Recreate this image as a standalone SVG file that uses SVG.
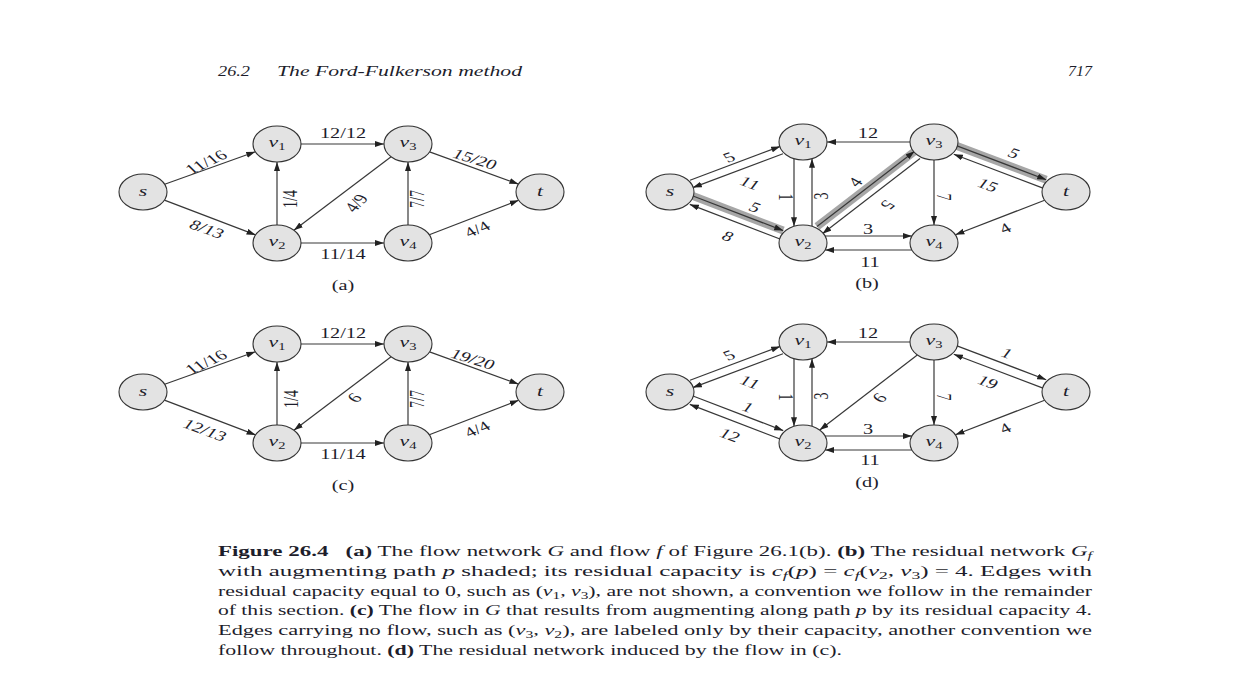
<svg xmlns="http://www.w3.org/2000/svg" width="1256" height="684" viewBox="0 0 1256 684">
<defs>
<marker id="ah" markerUnits="userSpaceOnUse" markerWidth="10" markerHeight="7" refX="9" refY="3.2" orient="auto">
<path d="M0,0.2 L9,3.2 L0,6.2 z" fill="#222"/>
</marker>
<style>
.n{fill:#e3e3e3;stroke:#333;stroke-width:1.1}
.e{stroke:#383838;stroke-width:1.2;fill:none;marker-end:url(#ah)}
.hl{stroke:#a6a6a6;stroke-width:8;fill:none}
.lb{font-family:"Liberation Serif","Times New Roman",serif;font-size:14px;fill:#1d1d2b;text-anchor:middle;dominant-baseline:central}
.nl{font-family:"Liberation Serif","Times New Roman",serif;font-style:italic;font-size:15px;fill:#1d1d2b;text-anchor:middle}
.sb{font-style:normal;font-size:10px}
.cap{font-family:"Liberation Serif","Times New Roman",serif;font-size:15px;fill:#1d1d2b}
.hd{font-family:"Liberation Serif","Times New Roman",serif;font-style:italic;font-size:15px;fill:#1d1d2b}
.b{font-weight:bold}
.i{font-style:italic}
.cs{font-size:10.5px}
</style>
</defs>
<rect width="1256" height="684" fill="#fff"/>

<g id="header">
<text class="hd" x="218" y="76" textLength="32" lengthAdjust="spacingAndGlyphs">26.2</text>
<text class="hd" x="277" y="76" textLength="245" lengthAdjust="spacingAndGlyphs">The Ford-Fulkerson method</text>
<text class="hd" x="1068" y="76" textLength="24" lengthAdjust="spacingAndGlyphs">717</text>
</g>

<g id="highlights">
<line class="hl" x1="693.0" y1="196.0" x2="783.2" y2="230.6"/>
<line class="hl" x1="817.0" y1="226.5" x2="914.6" y2="151.3"/>
<line class="hl" x1="957.0" y1="145.9" x2="1046.2" y2="179.7"/>
</g>

<g id="connectors">
<!-- (a) -->
<line class="e" x1="164.7" y1="184.2" x2="255.3" y2="151.8"/>
<line class="e" x1="164.4" y1="200.1" x2="255.6" y2="234.9"/>
<line class="e" x1="301" y1="144" x2="384" y2="144"/>
<line class="e" x1="301" y1="243" x2="384" y2="243"/>
<line class="e" x1="277" y1="225" x2="277" y2="162"/>
<line class="e" x1="408" y1="225" x2="408" y2="162"/>
<line class="e" x1="429.6" y1="151.9" x2="518.4" y2="184.1"/>
<line class="e" x1="429.3" y1="234.8" x2="518.7" y2="200.2"/>
<line class="e" x1="391.1" y1="156.8" x2="293.9" y2="230.2"/>
<!-- (c) -->
<line class="e" x1="164.7" y1="384.2" x2="255.3" y2="351.8"/>
<line class="e" x1="164.4" y1="400.1" x2="255.6" y2="434.9"/>
<line class="e" x1="301" y1="344" x2="384" y2="344"/>
<line class="e" x1="301" y1="443" x2="384" y2="443"/>
<line class="e" x1="277" y1="425" x2="277" y2="362"/>
<line class="e" x1="408" y1="425" x2="408" y2="362"/>
<line class="e" x1="429.6" y1="351.9" x2="518.4" y2="384.1"/>
<line class="e" x1="429.3" y1="434.8" x2="518.7" y2="400.2"/>
<line class="e" x1="391.1" y1="356.8" x2="293.9" y2="430.2"/>
<!-- (b) -->
<line class="e" x1="690.0" y1="180.2" x2="780.2" y2="146.4"/>
<line class="e" x1="783.0" y1="153.8" x2="692.8" y2="187.6"/>
<line class="e" x1="693.0" y1="196.0" x2="783.2" y2="230.6"/>
<line class="e" x1="780.0" y1="239.0" x2="689.8" y2="204.4"/>
<line class="e" x1="794" y1="158.7" x2="794" y2="226.3"/>
<line class="e" x1="812" y1="226.3" x2="812" y2="158.7"/>
<line class="e" x1="817.0" y1="226.5" x2="914.6" y2="151.3"/>
<line class="e" x1="920.0" y1="158.5" x2="822.4" y2="233.7"/>
<line class="e" x1="910" y1="142" x2="827" y2="142"/>
<line class="e" x1="934" y1="160" x2="934" y2="225"/>
<line class="e" x1="957.0" y1="145.9" x2="1046.2" y2="179.7"/>
<line class="e" x1="1043.0" y1="188.1" x2="953.8" y2="154.3"/>
<line class="e" x1="1044.6" y1="200.2" x2="955.4" y2="234.8"/>
<line class="e" x1="825.1" y1="236" x2="911.9" y2="236"/>
<line class="e" x1="911.9" y1="250" x2="825.1" y2="250"/>
<!-- (d) -->
<line class="e" x1="690.0" y1="380.2" x2="780.2" y2="346.4"/>
<line class="e" x1="783.0" y1="353.8" x2="692.8" y2="387.6"/>
<line class="e" x1="693.0" y1="396.0" x2="783.2" y2="430.6"/>
<line class="e" x1="780.0" y1="439.0" x2="689.8" y2="404.4"/>
<line class="e" x1="794" y1="358.7" x2="794" y2="426.3"/>
<line class="e" x1="812" y1="426.3" x2="812" y2="358.7"/>
<line class="e" x1="917.3" y1="354.9" x2="819.7" y2="430.1"/>
<line class="e" x1="910" y1="342" x2="827" y2="342"/>
<line class="e" x1="934" y1="360" x2="934" y2="425"/>
<line class="e" x1="957.0" y1="345.9" x2="1046.2" y2="379.7"/>
<line class="e" x1="1043.0" y1="388.1" x2="953.8" y2="354.3"/>
<line class="e" x1="1044.6" y1="400.2" x2="955.4" y2="434.8"/>
<line class="e" x1="825.1" y1="436" x2="911.9" y2="436"/>
<line class="e" x1="911.9" y1="450" x2="825.1" y2="450"/>
</g>

<g id="edge-labels">
<!-- (a) -->
<text class="lb" transform="translate(206,162) scale(1.45,1) rotate(-34.5)">11/16</text>
<text class="lb" transform="translate(207,229) scale(1.45,1) rotate(27.8)">8/13</text>
<text class="lb" transform="translate(343,133) scale(1.45,1)">12/12</text>
<text class="lb" transform="translate(475,159) scale(1.45,1) rotate(24)">15/20</text>
<text class="lb" transform="translate(290,199) scale(1.45,1) rotate(-90)">1/4</text>
<text class="lb" transform="translate(356,203) scale(1.45,1) rotate(-55.4)">4/9</text>
<text class="lb" transform="translate(417,199) scale(1.45,1) rotate(-90)">7/7</text>
<text class="lb" transform="translate(343,254) scale(1.45,1)">11/14</text>
<text class="lb" transform="translate(477,229) scale(1.45,1) rotate(-30.4)">4/4</text>
<text class="lb" transform="translate(343,285) scale(1.45,1)">(a)</text>
<!-- (c) -->
<text class="lb" transform="translate(206,362) scale(1.45,1) rotate(-34.5)">11/16</text>
<text class="lb" transform="translate(205,430) scale(1.45,1) rotate(27.8)">12/13</text>
<text class="lb" transform="translate(343,333) scale(1.45,1)">12/12</text>
<text class="lb" transform="translate(473,359) scale(1.45,1) rotate(24)">19/20</text>
<text class="lb" transform="translate(291,399) scale(1.45,1) rotate(-90)">1/4</text>
<text class="lb" transform="translate(355,398) scale(1.45,1) rotate(129.5)">9</text>
<text class="lb" transform="translate(417,399) scale(1.45,1) rotate(-90)">7/7</text>
<text class="lb" transform="translate(343,454) scale(1.45,1)">11/14</text>
<text class="lb" transform="translate(477,429) scale(1.45,1) rotate(-30.4)">4/4</text>
<text class="lb" transform="translate(343,485) scale(1.45,1)">(c)</text>
<!-- (b) -->
<text class="lb" transform="translate(729,157) scale(1.45,1) rotate(-27.8)">5</text>
<text class="lb" transform="translate(750,183) scale(1.45,1) rotate(27.8)">11</text>
<text class="lb" transform="translate(755,207) scale(1.45,1) rotate(27.8)">5</text>
<text class="lb" transform="translate(728,236) scale(1.45,1) rotate(27.8)">8</text>
<text class="lb" transform="translate(786,197) scale(1.45,1) rotate(90)">1</text>
<text class="lb" transform="translate(821,196) scale(1.45,1) rotate(-90)">3</text>
<text class="lb" transform="translate(855,182) scale(1.45,1) rotate(-50.7)">4</text>
<text class="lb" transform="translate(888,205) scale(1.45,1) rotate(129.3)">5</text>
<text class="lb" transform="translate(868,133) scale(1.45,1)">12</text>
<text class="lb" transform="translate(944,197) scale(1.45,1) rotate(90)">7</text>
<text class="lb" transform="translate(1014,153) scale(1.45,1) rotate(27.8)">5</text>
<text class="lb" transform="translate(988,185) scale(1.45,1) rotate(27.8)">15</text>
<text class="lb" transform="translate(1005,228) scale(1.45,1) rotate(-27.8)">4</text>
<text class="lb" transform="translate(868,229) scale(1.45,1)">3</text>
<text class="lb" transform="translate(870,262) scale(1.45,1)">11</text>
<text class="lb" transform="translate(867,283) scale(1.45,1)">(b)</text>
<!-- (d) -->
<text class="lb" transform="translate(729,355) scale(1.45,1) rotate(-27.8)">5</text>
<text class="lb" transform="translate(750,382) scale(1.45,1) rotate(27.8)">11</text>
<text class="lb" transform="translate(748,407) scale(1.45,1) rotate(27.8)">1</text>
<text class="lb" transform="translate(730,435) scale(1.45,1) rotate(27.8)">12</text>
<text class="lb" transform="translate(786,397) scale(1.45,1) rotate(90)">1</text>
<text class="lb" transform="translate(821,396) scale(1.45,1) rotate(-90)">3</text>
<text class="lb" transform="translate(868,333) scale(1.45,1)">12</text>
<text class="lb" transform="translate(880,398) scale(1.45,1) rotate(129.3)">9</text>
<text class="lb" transform="translate(944,397) scale(1.45,1) rotate(90)">7</text>
<text class="lb" transform="translate(1007,353) scale(1.45,1) rotate(27.8)">1</text>
<text class="lb" transform="translate(988,382) scale(1.45,1) rotate(27.8)">19</text>
<text class="lb" transform="translate(1005,428) scale(1.45,1) rotate(-27.8)">4</text>
<text class="lb" transform="translate(868,429) scale(1.45,1)">3</text>
<text class="lb" transform="translate(870,460) scale(1.45,1)">11</text>
<text class="lb" transform="translate(867,482) scale(1.45,1)">(d)</text>
</g>

<!-- nodes (a) -->
<g id="a-s"><ellipse class="n" cx="143" cy="192" rx="24" ry="18"/><text class="nl" transform="translate(143,196) scale(1.45,1)">s</text></g>
<g id="a-v1"><ellipse class="n" cx="277" cy="144" rx="24" ry="18"/><text class="nl" transform="translate(277,147) scale(1.45,1)">v<tspan class="sb" dy="3">1</tspan></text></g>
<g id="a-v3"><ellipse class="n" cx="408" cy="144" rx="24" ry="18"/><text class="nl" transform="translate(408,147) scale(1.45,1)">v<tspan class="sb" dy="3">3</tspan></text></g>
<g id="a-t"><ellipse class="n" cx="540" cy="192" rx="24" ry="18"/><text class="nl" transform="translate(540,196) scale(1.45,1)">t</text></g>
<g id="a-v2"><ellipse class="n" cx="277" cy="243" rx="24" ry="18"/><text class="nl" transform="translate(277,246) scale(1.45,1)">v<tspan class="sb" dy="3">2</tspan></text></g>
<g id="a-v4"><ellipse class="n" cx="408" cy="243" rx="24" ry="18"/><text class="nl" transform="translate(408,246) scale(1.45,1)">v<tspan class="sb" dy="3">4</tspan></text></g>
<!-- nodes (c) -->
<g id="c-s"><ellipse class="n" cx="143" cy="392" rx="24" ry="18"/><text class="nl" transform="translate(143,396) scale(1.45,1)">s</text></g>
<g id="c-v1"><ellipse class="n" cx="277" cy="344" rx="24" ry="18"/><text class="nl" transform="translate(277,347) scale(1.45,1)">v<tspan class="sb" dy="3">1</tspan></text></g>
<g id="c-v3"><ellipse class="n" cx="408" cy="344" rx="24" ry="18"/><text class="nl" transform="translate(408,347) scale(1.45,1)">v<tspan class="sb" dy="3">3</tspan></text></g>
<g id="c-t"><ellipse class="n" cx="540" cy="392" rx="24" ry="18"/><text class="nl" transform="translate(540,396) scale(1.45,1)">t</text></g>
<g id="c-v2"><ellipse class="n" cx="277" cy="443" rx="24" ry="18"/><text class="nl" transform="translate(277,446) scale(1.45,1)">v<tspan class="sb" dy="3">2</tspan></text></g>
<g id="c-v4"><ellipse class="n" cx="408" cy="443" rx="24" ry="18"/><text class="nl" transform="translate(408,446) scale(1.45,1)">v<tspan class="sb" dy="3">4</tspan></text></g>
<!-- nodes (b) -->
<g id="b-s"><ellipse class="n" cx="670" cy="192" rx="24" ry="18"/><text class="nl" transform="translate(670,196) scale(1.45,1)">s</text></g>
<g id="b-v1"><ellipse class="n" cx="803" cy="142" rx="24" ry="18"/><text class="nl" transform="translate(803,145) scale(1.45,1)">v<tspan class="sb" dy="3">1</tspan></text></g>
<g id="b-v3"><ellipse class="n" cx="934" cy="142" rx="24" ry="18"/><text class="nl" transform="translate(934,145) scale(1.45,1)">v<tspan class="sb" dy="3">3</tspan></text></g>
<g id="b-t"><ellipse class="n" cx="1066" cy="192" rx="24" ry="18"/><text class="nl" transform="translate(1066,196) scale(1.45,1)">t</text></g>
<g id="b-v2"><ellipse class="n" cx="803" cy="243" rx="24" ry="18"/><text class="nl" transform="translate(803,246) scale(1.45,1)">v<tspan class="sb" dy="3">2</tspan></text></g>
<g id="b-v4"><ellipse class="n" cx="934" cy="243" rx="24" ry="18"/><text class="nl" transform="translate(934,246) scale(1.45,1)">v<tspan class="sb" dy="3">4</tspan></text></g>
<!-- nodes (d) -->
<g id="d-s"><ellipse class="n" cx="670" cy="392" rx="24" ry="18"/><text class="nl" transform="translate(670,396) scale(1.45,1)">s</text></g>
<g id="d-v1"><ellipse class="n" cx="803" cy="342" rx="24" ry="18"/><text class="nl" transform="translate(803,345) scale(1.45,1)">v<tspan class="sb" dy="3">1</tspan></text></g>
<g id="d-v3"><ellipse class="n" cx="934" cy="342" rx="24" ry="18"/><text class="nl" transform="translate(934,345) scale(1.45,1)">v<tspan class="sb" dy="3">3</tspan></text></g>
<g id="d-t"><ellipse class="n" cx="1066" cy="392" rx="24" ry="18"/><text class="nl" transform="translate(1066,396) scale(1.45,1)">t</text></g>
<g id="d-v2"><ellipse class="n" cx="803" cy="443" rx="24" ry="18"/><text class="nl" transform="translate(803,446) scale(1.45,1)">v<tspan class="sb" dy="3">2</tspan></text></g>
<g id="d-v4"><ellipse class="n" cx="934" cy="443" rx="24" ry="18"/><text class="nl" transform="translate(934,446) scale(1.45,1)">v<tspan class="sb" dy="3">4</tspan></text></g>

<g id="caption">
<text class="cap" x="218" y="556" textLength="874" lengthAdjust="spacingAndGlyphs"><tspan class="b">Figure 26.4</tspan>&#160;&#160;&#160;<tspan class="b">(a)</tspan> The flow network <tspan class="i">G</tspan> and flow <tspan class="i">f</tspan> of Figure 26.1(b). <tspan class="b">(b)</tspan> The residual network <tspan class="i">G</tspan><tspan class="i cs" dy="3">f</tspan></text>
<text class="cap" x="218" y="575.8" textLength="874" lengthAdjust="spacingAndGlyphs">with augmenting path <tspan class="i">p</tspan> shaded; its residual capacity is <tspan class="i">c</tspan><tspan class="i cs" dy="3">f</tspan><tspan dy="-3">(</tspan><tspan class="i">p</tspan>) = <tspan class="i">c</tspan><tspan class="i cs" dy="3">f</tspan><tspan dy="-3">(</tspan><tspan class="i">v</tspan><tspan class="cs" dy="3">2</tspan><tspan dy="-3">, </tspan><tspan class="i">v</tspan><tspan class="cs" dy="3">3</tspan><tspan dy="-3">) = 4. Edges with</tspan></text>
<text class="cap" x="218" y="595.6" textLength="874" lengthAdjust="spacingAndGlyphs">residual capacity equal to 0, such as (<tspan class="i">v</tspan><tspan class="cs" dy="3">1</tspan><tspan dy="-3">, </tspan><tspan class="i">v</tspan><tspan class="cs" dy="3">3</tspan><tspan dy="-3">), are not shown, a convention we follow in the remainder</tspan></text>
<text class="cap" x="218" y="615.4" textLength="874" lengthAdjust="spacingAndGlyphs">of this section. <tspan class="b">(c)</tspan> The flow in <tspan class="i">G</tspan> that results from augmenting along path <tspan class="i">p</tspan> by its residual capacity 4.</text>
<text class="cap" x="218" y="635.2" textLength="874" lengthAdjust="spacingAndGlyphs">Edges carrying no flow, such as (<tspan class="i">v</tspan><tspan class="cs" dy="3">3</tspan><tspan dy="-3">, </tspan><tspan class="i">v</tspan><tspan class="cs" dy="3">2</tspan><tspan dy="-3">), are labeled only by their capacity, another convention we</tspan></text>
<text class="cap" x="218" y="655" textLength="624" lengthAdjust="spacingAndGlyphs">follow throughout. <tspan class="b">(d)</tspan> The residual network induced by the flow in (c).</text>
</g>
</svg>
